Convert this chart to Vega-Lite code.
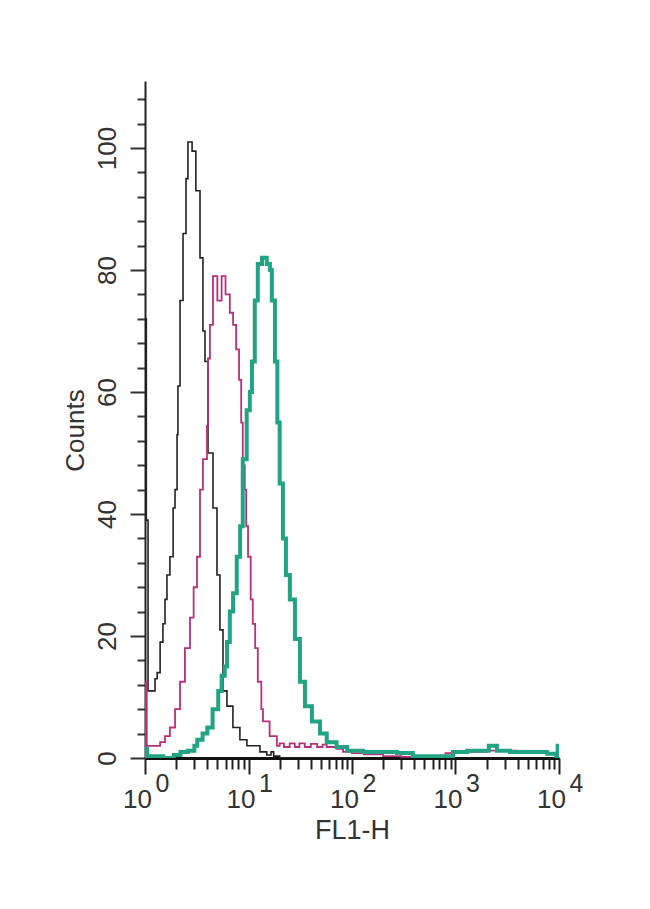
{
  "$schema": "https://vega.github.io/schema/vega-lite/v6.json",
  "autosize": {"type": "none"},
  "padding": {"left": 145, "top": 81, "right": 91, "bottom": 151},
  "width": 414,
  "height": 677,
  "background": "white",
  "config": {"view": {"stroke": null}, "font": "Liberation Sans"},
  "datasets": {
    "hist": [
      {"series": "black", "fl1": 1, "count": 0},
      {"series": "black", "fl1": 1.003, "count": 72},
      {"series": "black", "fl1": 1.03, "count": 39},
      {"series": "black", "fl1": 1.07, "count": 11},
      {"series": "black", "fl1": 1.25, "count": 13},
      {"series": "black", "fl1": 1.31, "count": 14},
      {"series": "black", "fl1": 1.4, "count": 19},
      {"series": "black", "fl1": 1.49, "count": 22},
      {"series": "black", "fl1": 1.56, "count": 26},
      {"series": "black", "fl1": 1.63, "count": 30},
      {"series": "black", "fl1": 1.74, "count": 33},
      {"series": "black", "fl1": 1.87, "count": 41},
      {"series": "black", "fl1": 1.95, "count": 44},
      {"series": "black", "fl1": 2.04, "count": 53},
      {"series": "black", "fl1": 2.08, "count": 61},
      {"series": "black", "fl1": 2.18, "count": 75},
      {"series": "black", "fl1": 2.33, "count": 86},
      {"series": "black", "fl1": 2.49, "count": 95},
      {"series": "black", "fl1": 2.6, "count": 101},
      {"series": "black", "fl1": 2.85, "count": 99.5},
      {"series": "black", "fl1": 3.1, "count": 93},
      {"series": "black", "fl1": 3.4, "count": 82},
      {"series": "black", "fl1": 3.63, "count": 70},
      {"series": "black", "fl1": 3.8, "count": 65},
      {"series": "black", "fl1": 4.06, "count": 50},
      {"series": "black", "fl1": 4.54, "count": 41},
      {"series": "black", "fl1": 4.96, "count": 30},
      {"series": "black", "fl1": 5.3, "count": 21},
      {"series": "black", "fl1": 5.67, "count": 11},
      {"series": "black", "fl1": 6.19, "count": 8.5},
      {"series": "black", "fl1": 7.07, "count": 5},
      {"series": "black", "fl1": 8.26, "count": 3},
      {"series": "black", "fl1": 9.65, "count": 2},
      {"series": "black", "fl1": 12.9, "count": 1},
      {"series": "black", "fl1": 15, "count": 0.5},
      {"series": "black", "fl1": 16.5, "count": 1},
      {"series": "black", "fl1": 17.5, "count": 0.3},
      {"series": "black", "fl1": 20, "count": 0},
      {"series": "black", "fl1": 140, "count": 0},

      {"series": "magenta", "fl1": 1, "count": 0},
      {"series": "magenta", "fl1": 1.003, "count": 12.5},
      {"series": "magenta", "fl1": 1.04, "count": 2},
      {"series": "magenta", "fl1": 1.2, "count": 2},
      {"series": "magenta", "fl1": 1.4, "count": 2.6},
      {"series": "magenta", "fl1": 1.56, "count": 3.6},
      {"series": "magenta", "fl1": 1.74, "count": 5},
      {"series": "magenta", "fl1": 1.95, "count": 8},
      {"series": "magenta", "fl1": 2.18, "count": 12.5},
      {"series": "magenta", "fl1": 2.43, "count": 18},
      {"series": "magenta", "fl1": 2.72, "count": 23},
      {"series": "magenta", "fl1": 2.95, "count": 28},
      {"series": "magenta", "fl1": 3.18, "count": 33},
      {"series": "magenta", "fl1": 3.4, "count": 44},
      {"series": "magenta", "fl1": 3.63, "count": 49},
      {"series": "magenta", "fl1": 3.97, "count": 54.5},
      {"series": "magenta", "fl1": 4.06, "count": 65.5},
      {"series": "magenta", "fl1": 4.24, "count": 71},
      {"series": "magenta", "fl1": 4.54, "count": 79},
      {"series": "magenta", "fl1": 5.0, "count": 75},
      {"series": "magenta", "fl1": 5.5, "count": 79},
      {"series": "magenta", "fl1": 6.0, "count": 76},
      {"series": "magenta", "fl1": 6.6, "count": 73},
      {"series": "magenta", "fl1": 7.1, "count": 71},
      {"series": "magenta", "fl1": 7.6, "count": 67},
      {"series": "magenta", "fl1": 8.1, "count": 62},
      {"series": "magenta", "fl1": 8.5, "count": 55},
      {"series": "magenta", "fl1": 8.8, "count": 48},
      {"series": "magenta", "fl1": 9.2, "count": 44},
      {"series": "magenta", "fl1": 9.5, "count": 38},
      {"series": "magenta", "fl1": 9.9, "count": 33},
      {"series": "magenta", "fl1": 10.5, "count": 26},
      {"series": "magenta", "fl1": 11.0, "count": 22},
      {"series": "magenta", "fl1": 11.6, "count": 18},
      {"series": "magenta", "fl1": 12.3, "count": 12.5},
      {"series": "magenta", "fl1": 13.3, "count": 8},
      {"series": "magenta", "fl1": 13.8, "count": 6},
      {"series": "magenta", "fl1": 16, "count": 3.6},
      {"series": "magenta", "fl1": 18.8, "count": 2},
      {"series": "magenta", "fl1": 20, "count": 2.4},
      {"series": "magenta", "fl1": 22, "count": 1.8},
      {"series": "magenta", "fl1": 25, "count": 2.4},
      {"series": "magenta", "fl1": 28, "count": 1.8},
      {"series": "magenta", "fl1": 31, "count": 2.4},
      {"series": "magenta", "fl1": 35, "count": 1.8},
      {"series": "magenta", "fl1": 40, "count": 2.3},
      {"series": "magenta", "fl1": 46, "count": 1.8},
      {"series": "magenta", "fl1": 52, "count": 2.2},
      {"series": "magenta", "fl1": 57, "count": 1.8},
      {"series": "magenta", "fl1": 71, "count": 1.5},
      {"series": "magenta", "fl1": 82, "count": 1},
      {"series": "magenta", "fl1": 100, "count": 0.8},
      {"series": "magenta", "fl1": 130, "count": 0.6},
      {"series": "magenta", "fl1": 200, "count": 0.3},
      {"series": "magenta", "fl1": 300, "count": 0.2},
      {"series": "magenta", "fl1": 500, "count": 0.3},
      {"series": "magenta", "fl1": 800, "count": 0.8},
      {"series": "magenta", "fl1": 1000, "count": 1},
      {"series": "magenta", "fl1": 2000, "count": 1.2},
      {"series": "magenta", "fl1": 4000, "count": 1},
      {"series": "magenta", "fl1": 7000, "count": 0.8},
      {"series": "magenta", "fl1": 9800, "count": 0.5},
      {"series": "magenta", "fl1": 10000, "count": 0.5},

      {"series": "teal", "fl1": 1, "count": 0},
      {"series": "teal", "fl1": 1.005, "count": 1.5},
      {"series": "teal", "fl1": 1.05, "count": 0.3},
      {"series": "teal", "fl1": 1.5, "count": 0},
      {"series": "teal", "fl1": 1.9, "count": 0.5},
      {"series": "teal", "fl1": 2.2, "count": 1},
      {"series": "teal", "fl1": 2.6, "count": 1.2},
      {"series": "teal", "fl1": 3.0, "count": 2},
      {"series": "teal", "fl1": 3.2, "count": 3},
      {"series": "teal", "fl1": 3.6, "count": 4},
      {"series": "teal", "fl1": 4.0, "count": 5},
      {"series": "teal", "fl1": 4.5, "count": 8},
      {"series": "teal", "fl1": 5.1, "count": 11},
      {"series": "teal", "fl1": 5.5, "count": 13.5},
      {"series": "teal", "fl1": 5.9, "count": 15},
      {"series": "teal", "fl1": 6.2, "count": 19},
      {"series": "teal", "fl1": 6.6, "count": 24},
      {"series": "teal", "fl1": 7.1, "count": 27},
      {"series": "teal", "fl1": 7.7, "count": 33},
      {"series": "teal", "fl1": 8.3, "count": 38},
      {"series": "teal", "fl1": 8.8, "count": 49},
      {"series": "teal", "fl1": 9.6, "count": 57},
      {"series": "teal", "fl1": 10.3, "count": 60},
      {"series": "teal", "fl1": 10.8, "count": 65},
      {"series": "teal", "fl1": 11.5, "count": 75},
      {"series": "teal", "fl1": 12.3, "count": 81},
      {"series": "teal", "fl1": 13.5, "count": 82},
      {"series": "teal", "fl1": 15, "count": 81},
      {"series": "teal", "fl1": 16.1, "count": 80},
      {"series": "teal", "fl1": 16.8, "count": 75},
      {"series": "teal", "fl1": 18, "count": 65},
      {"series": "teal", "fl1": 19, "count": 55},
      {"series": "teal", "fl1": 20, "count": 45},
      {"series": "teal", "fl1": 21.5, "count": 36},
      {"series": "teal", "fl1": 23, "count": 30},
      {"series": "teal", "fl1": 25.1, "count": 26},
      {"series": "teal", "fl1": 28.1, "count": 19.5},
      {"series": "teal", "fl1": 31.4, "count": 12.5},
      {"series": "teal", "fl1": 35.1, "count": 8.5},
      {"series": "teal", "fl1": 41, "count": 6},
      {"series": "teal", "fl1": 49, "count": 4},
      {"series": "teal", "fl1": 57, "count": 2.6},
      {"series": "teal", "fl1": 71, "count": 1.8},
      {"series": "teal", "fl1": 90, "count": 1.2},
      {"series": "teal", "fl1": 128, "count": 1},
      {"series": "teal", "fl1": 187, "count": 1},
      {"series": "teal", "fl1": 272, "count": 0.8},
      {"series": "teal", "fl1": 387, "count": 0.3},
      {"series": "teal", "fl1": 566, "count": 0.3},
      {"series": "teal", "fl1": 946, "count": 1},
      {"series": "teal", "fl1": 1300, "count": 1.2},
      {"series": "teal", "fl1": 1732, "count": 1.2},
      {"series": "teal", "fl1": 2100, "count": 2},
      {"series": "teal", "fl1": 2515, "count": 1.2},
      {"series": "teal", "fl1": 3364, "count": 1},
      {"series": "teal", "fl1": 5280, "count": 1},
      {"series": "teal", "fl1": 7690, "count": 0.7},
      {"series": "teal", "fl1": 9400, "count": 0.2},
      {"series": "teal", "fl1": 9700, "count": 2},
      {"series": "teal", "fl1": 10000, "count": 2}
    ]
  },
  "data": {"name": "hist"},
  "encoding": {
    "y": {
      "field": "count",
      "type": "quantitative",
      "scale": {"domain": [0, 111], "nice": false},
      "axis": {
        "title": "Counts",
        "titleFontSize": 26,
        "titleFontWeight": "normal",
        "titleColor": "#333",
        "titlePadding": 6,
        "titleY": 349,
        "values": [0,4,8,12,16,20,24,28,32,36,40,44,48,52,56,60,64,68,72,76,80,84,88,92,96,100,104,108],
        "labelExpr": "datum.value % 20 == 0 ? datum.label : ''",
        "labelAngle": -90,
        "labelAlign": "center",
        "labelBaseline": "bottom",
        "labelFontSize": 26,
        "labelColor": "#333",
        "labelOverlap": false,
        "labelFlush": false,
        "labelPadding": 10,
        "tickSize": {"condition": {"test": "datum.value % 20 == 0", "value": 15}, "value": 8},
        "tickColor": "#333",
        "tickWidth": 2,
        "domainColor": "#222",
        "domainWidth": 2,
        "grid": false
      }
    }
  },
  "resolve": {"axis": {"x": "independent"}},
  "layer": [
    {
      "transform": [{"filter": "datum.series == 'black'"}],
      "mark": {"type": "line", "interpolate": "step-after", "clip": true, "color": "#222222", "strokeWidth": 1.6},
      "encoding": {
        "x": {
          "field": "fl1",
          "type": "quantitative",
          "scale": {"type": "log", "domain": [1, 10000], "nice": false},
          "axis": {
            "orient": "bottom",
            "title": "FL1-H",
            "titleFontSize": 27,
            "titleFontWeight": "normal",
            "titleColor": "#333",
            "titlePadding": 5,
            "values": [1,2,3,4,5,6,7,8,9,10,20,30,40,50,60,70,80,90,100,200,300,400,500,600,700,800,900,1000,2000,3000,4000,5000,6000,7000,8000,9000,10000],
            "labelExpr": "indexof([1,10,100,1000,10000], datum.value) >= 0 ? '10' : ''",
            "labelFontSize": 26,
            "labelColor": "#333",
            "labelOverlap": false,
            "labelFlush": false,
            "labelOffset": -8,
            "labelPadding": 12,
            "tickSize": {"condition": {"test": "indexof([1,10,100,1000,10000], datum.value) >= 0", "value": 16}, "value": 11},
            "tickColor": "#222",
            "tickWidth": 2,
            "domainColor": "#111",
            "domainWidth": 3,
            "grid": false
          }
        }
      }
    },
    {
      "transform": [{"filter": "datum.series == 'magenta'"}],
      "mark": {"type": "line", "interpolate": "step-after", "clip": true, "color": "#b8307a", "strokeWidth": 1.8},
      "encoding": {
        "x": {
          "field": "fl1",
          "type": "quantitative",
          "scale": {"type": "log", "domain": [1, 10000], "nice": false},
          "axis": {
            "orient": "bottom",
            "title": null,
            "values": [1, 10, 100, 1000, 10000],
            "labelExpr": "format(log(datum.value) / LN10, 'd')",
            "labelFontSize": 25,
            "labelColor": "#333",
            "labelOverlap": false,
            "labelFlush": false,
            "labelOffset": 17,
            "labelPadding": 13,
            "ticks": false,
            "domain": false,
            "grid": false
          }
        }
      }
    },
    {
      "transform": [{"filter": "datum.series == 'teal'"}],
      "mark": {"type": "line", "interpolate": "step-after", "clip": true, "color": "#22a383", "strokeWidth": 4},
      "encoding": {
        "x": {
          "field": "fl1",
          "type": "quantitative",
          "scale": {"type": "log", "domain": [1, 10000], "nice": false},
          "axis": null
        }
      }
    }
  ]
}
